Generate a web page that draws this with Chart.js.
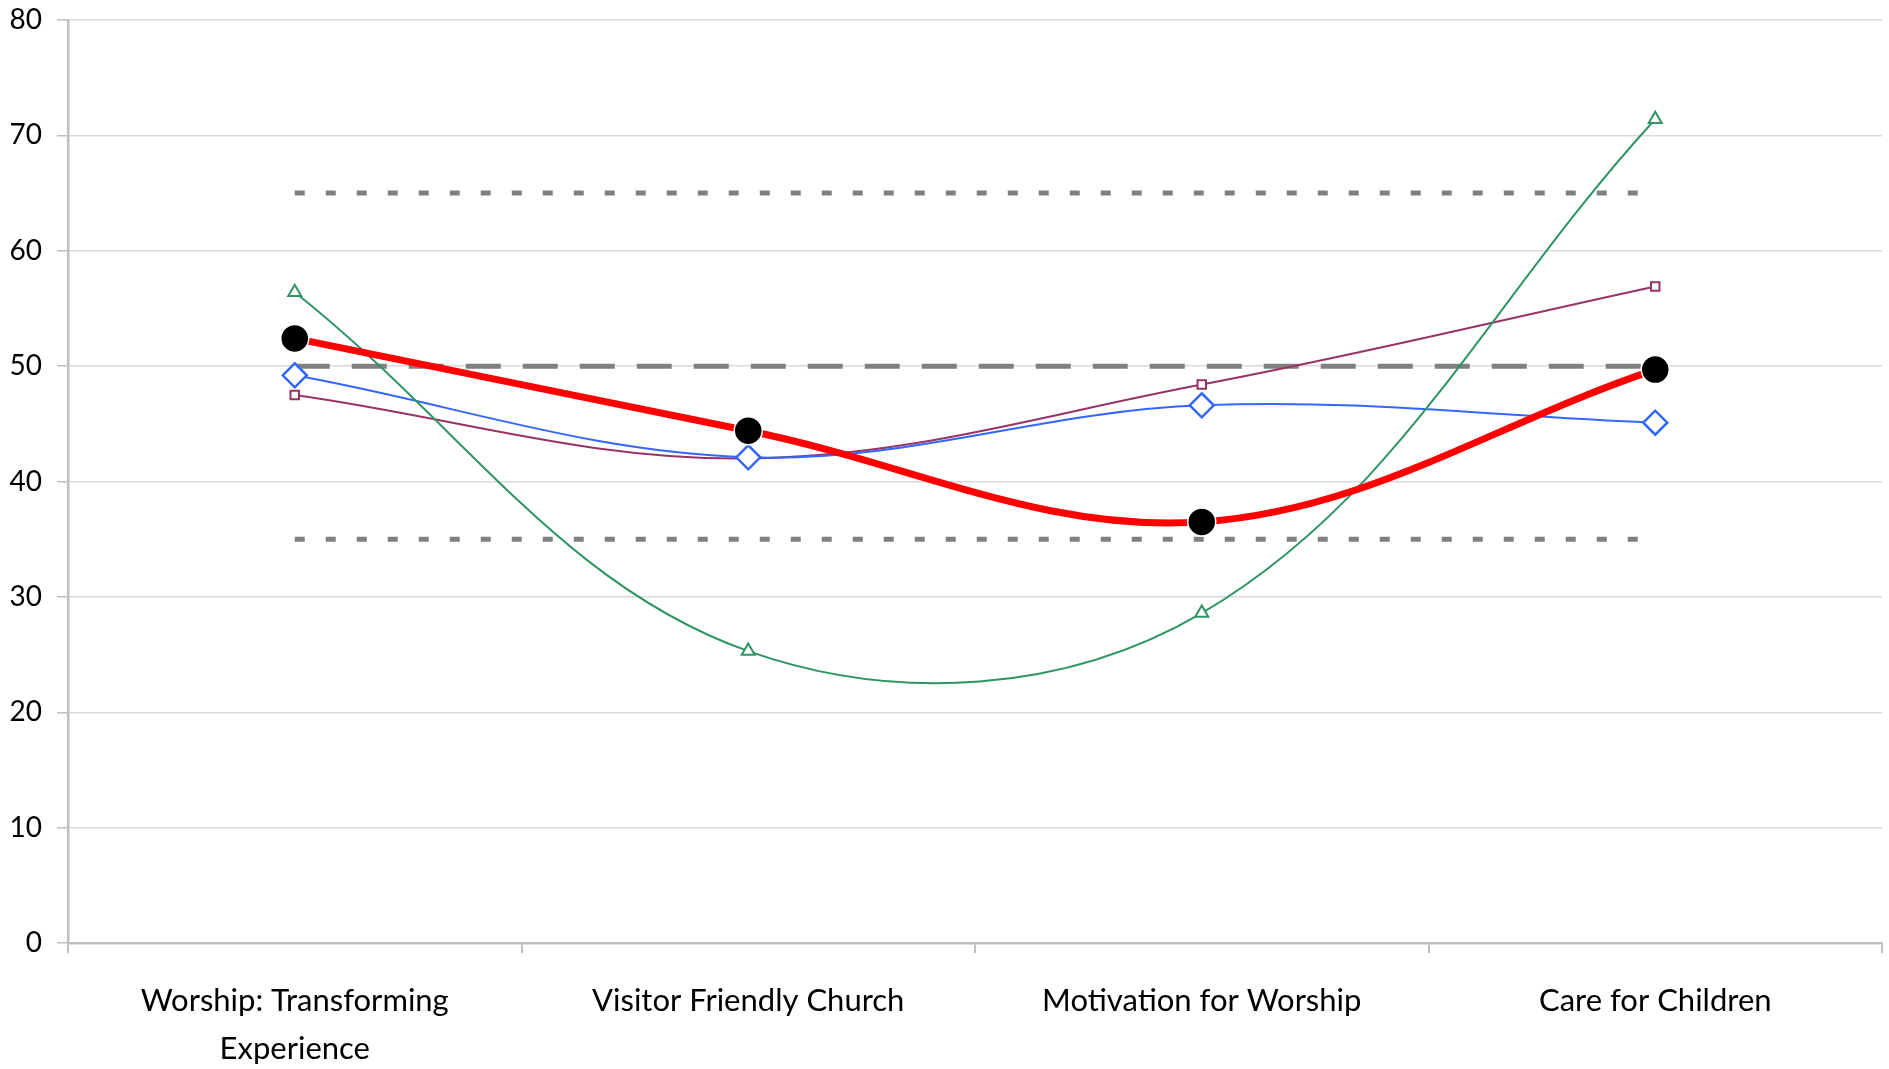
<!DOCTYPE html>
<html>
<head>
<meta charset="utf-8">
<script src="https://cdn.jsdelivr.net/npm/chart.js@4.4.1/dist/chart.umd.min.js"></script>
<style>
  html, body { margin: 0; padding: 0; background: #fff; }
  #wrap { width: 1889px; height: 1069px; }
</style>
</head>
<body>
<div id="wrap"><canvas id="line-chart"></canvas></div>
<script>
const categories = [
  ["Worship: Transforming", "Experience"],
  "Visitor Friendly Church",
  "Motivation for Worship",
  "Care for Children",
];
const overall = [52.4, 44.4, 36.5, 49.7];
const blueSeries = [49.2, 42.1, 46.6, 45.1];
const purpleSeries = [47.5, 42.0, 48.4, 56.9];
const greenSeries = [56.4, 25.3, 28.6, 71.4];
const upperBand = [65, 65, 65, 65];
const midLine = [50, 50, 50, 50];
const lowerBand = [35, 35, 35, 35];
const yTicks = [0, 10, 20, 30, 40, 50, 60, 70, 80];

Chart.defaults.font.family = "Lato, 'Open Sans', sans-serif";
Chart.defaults.color = "#000";

function refLine(data, dash) {
  return {
    data: data,
    borderColor: "#808080",
    borderWidth: 5,
    borderDash: dash,
    borderCapStyle: "butt",
    pointRadius: 0,
    tension: 0,
    fill: false,
    order: 10,
  };
}

new Chart(document.getElementById("line-chart"), {
  type: "line",
  data: {
    labels: categories,
    datasets: [
      {
        data: overall,
        borderColor: "#ff0000",
        borderWidth: 7,
        pointStyle: "circle",
        pointRadius: 14,
        pointBackgroundColor: "#000",
        pointBorderColor: "#fff",
        pointBorderWidth: 1.5,
        tension: 0.36,
        fill: false,
        order: 0,
      },
      {
        data: greenSeries,
        borderColor: "#2e9563",
        borderWidth: 2,
        pointStyle: "triangle",
        pointRadius: 7.5,
        pointBackgroundColor: "#fff",
        pointBorderColor: "#2e9563",
        pointBorderWidth: 2,
        tension: 0.37,
        fill: false,
        order: 1,
      },
      {
        data: blueSeries,
        borderColor: "#3366ff",
        borderWidth: 2,
        pointStyle: "rectRot",
        pointRadius: 12,
        pointBackgroundColor: "#fff",
        pointBorderColor: "#3366ff",
        pointBorderWidth: 2.5,
        tension: 0.36,
        fill: false,
        order: 2,
      },
      {
        data: purpleSeries,
        borderColor: "#993366",
        borderWidth: 2,
        pointStyle: "rect",
        pointRadius: 6,
        pointBackgroundColor: "#fff",
        pointBorderColor: "#993366",
        pointBorderWidth: 2,
        tension: 0.36,
        fill: false,
        order: 3,
      },
      refLine(upperBand, [10, 21]),
      refLine(midLine, [35, 22]),
      refLine(lowerBand, [10, 21]),
    ],
  },
  options: {
    responsive: true,
    maintainAspectRatio: false,
    animation: false,
    devicePixelRatio: 1,
    layout: { autoPadding: false, padding: { top: 20, right: 7, left: 8, bottom: 0 } },
    plugins: {
      legend: { display: false },
      tooltip: { enabled: false },
    },
    scales: {
      x: {
        offset: true,
        afterFit: (scale) => {
          scale.height = 126;
          scale.paddingLeft = 0;
          scale.paddingRight = 0;
        },
        grid: {
          offset: true,
          drawOnChartArea: false,
          drawTicks: true,
          tickLength: 10,
          color: "#bfbfbf",
          lineWidth: 2,
        },
        border: { color: "#bfbfbf", width: 2.5 },
        ticks: {
          padding: 24,
          maxRotation: 0,
          font: { size: 31, lineHeight: 1.55 },
          color: "#000",
        },
      },
      y: {
        min: yTicks[0],
        max: yTicks[yTicks.length - 1],
        afterFit: (scale) => {
          scale.width = 60;
          scale.paddingTop = 0;
          scale.paddingBottom = 0;
        },
        ticks: {
          stepSize: 10,
          padding: 15,
          font: { size: 28 },
          color: "#000",
        },
        grid: {
          color: "#d9d9d9",
          lineWidth: 1.5,
          tickLength: 11,
          tickColor: "#bfbfbf",
        },
        border: { color: "#bfbfbf", width: 2.5 },
      },
    },
  },
});
</script>
</body>
</html>
